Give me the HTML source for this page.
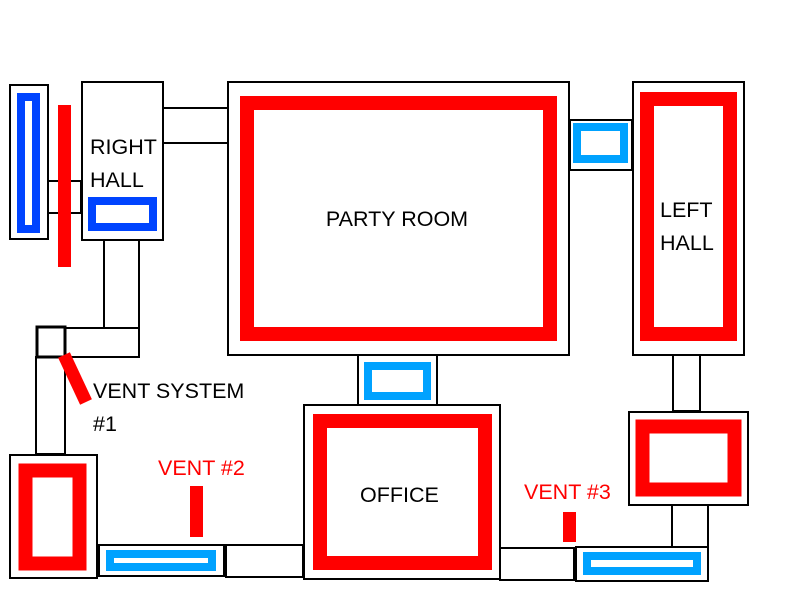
<!DOCTYPE html>
<html><head><meta charset="utf-8"><style>
html,body{margin:0;padding:0;background:#fff;}
svg{display:block;}
text{font-family:"Liberation Sans",sans-serif;font-size:21.5px;}
</style></head><body>
<svg width="795" height="597" viewBox="0 0 795 597" xmlns="http://www.w3.org/2000/svg">
<g fill="#fff" stroke="#000" stroke-width="2">
<rect x="10" y="85" width="38" height="154"/>
<rect x="48" y="181" width="33" height="32"/>
<rect x="82" y="82" width="81" height="158"/>
<rect x="163" y="108" width="65" height="35"/>
<rect x="104" y="240" width="35" height="88"/>
<rect x="37" y="328" width="102" height="29"/>
<rect x="36" y="357" width="29" height="97"/>
<rect x="37" y="327" width="28" height="30" stroke-width="3"/>
<rect x="10" y="455" width="87" height="123"/>
<rect x="99" y="545" width="125" height="31"/>
<rect x="226" y="545" width="77" height="32"/>
<rect x="228" y="82" width="341" height="273"/>
<rect x="358" y="355" width="79" height="50"/>
<rect x="304" y="405" width="196" height="174"/>
<rect x="570" y="120" width="62" height="50"/>
<rect x="633" y="82" width="111" height="273"/>
<rect x="673" y="355" width="27" height="56"/>
<rect x="629" y="412" width="119" height="93"/>
<rect x="672" y="505" width="36" height="42"/>
<rect x="576" y="547" width="132" height="34"/>
<rect x="500" y="548" width="74" height="32"/>
</g>
<g fill="none" stroke="#0044ff" stroke-width="8">
<rect x="21" y="97" width="15" height="132"/>
<rect x="92" y="201" width="61" height="26"/>
</g>
<g fill="none" stroke="#00a2ff" stroke-width="8">
<rect x="110" y="554" width="102" height="13"/>
<rect x="368" y="366" width="59" height="30"/>
<rect x="577" y="127" width="47" height="32"/>
<rect x="587" y="556" width="110" height="15"/>
</g>
<g fill="none" stroke="#ff0000" stroke-width="14">
<rect x="247" y="103" width="303" height="231"/>
<rect x="647" y="99" width="83" height="235"/>
<rect x="320" y="421" width="165" height="142"/>
<rect x="642.5" y="426.5" width="92" height="63"/>
<rect x="25.5" y="470.5" width="54" height="93"/>
</g>
<g fill="#ff0000">
<rect x="58" y="105" width="13" height="162"/>
<rect x="190" y="486" width="13" height="51"/>
<rect x="563" y="512" width="13" height="30"/>
</g>
<line x1="64" y1="355" x2="86" y2="402" stroke="#ff0000" stroke-width="13"/>
<g fill="#000">
<text x="90" y="154">RIGHT</text>
<text x="90" y="187">HALL</text>
<text x="397" y="226" text-anchor="middle">PARTY ROOM</text>
<text x="660" y="217">LEFT</text>
<text x="660" y="250">HALL</text>
<text x="93" y="398">VENT SYSTEM</text>
<text x="93" y="431">#1</text>
<text x="360" y="502">OFFICE</text>
</g>
<g fill="#ff0000">
<text x="158" y="475">VENT #2</text>
<text x="524" y="499">VENT #3</text>
</g>
</svg>
</body></html>
